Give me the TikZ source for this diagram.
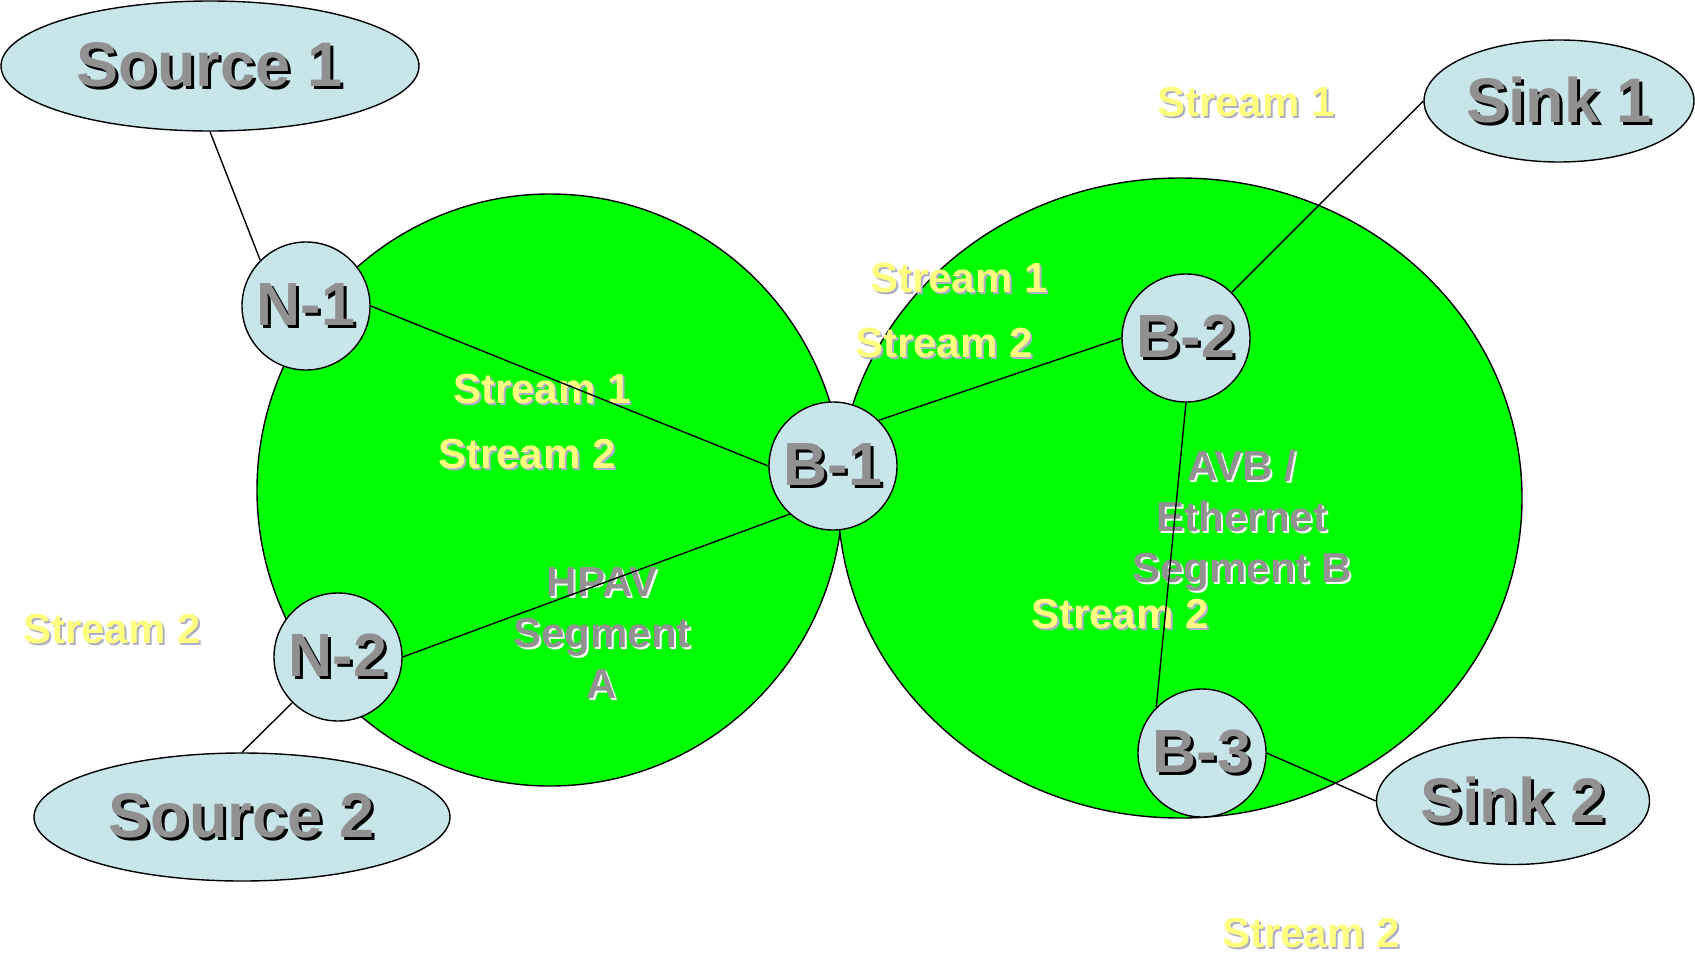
\documentclass[tikz,border=0pt]{standalone}
\usepackage{fontspec}
\setmainfont{Liberation Sans}
\usetikzlibrary{shapes.geometric}
\definecolor{nodefill}{RGB}{200,230,234}
\definecolor{segfill}{RGB}{0,255,0}
\definecolor{labgray}{RGB}{145,145,145}
\definecolor{streamyel}{RGB}{255,255,128}
\definecolor{streamshd}{RGB}{175,175,195}
% text with a drop shadow: #1 shadow colour, #2 offset, #3 text
\newcommand\shd[3]{\leavevmode\rlap{\hspace{#2}\raisebox{-#2}{\color{#1}#3}}#3}
\pgfdeclarelayer{bg}
\pgfdeclarelayer{lbl}
\pgfdeclarelayer{edges}
\pgfsetlayers{bg,lbl,edges,main}
\tikzset{
  segment/.style={ellipse, draw=black, line width=1.4pt, fill=segfill, inner sep=0pt},
  endpoint/.style={ellipse, draw=black, line width=1.4pt, fill=nodefill, inner sep=0pt,
    text=labgray, font=\bfseries\fontsize{63}{69}\selectfont},
  bridge/.style={circle, draw=black, line width=1.4pt, fill=nodefill, inner sep=0pt,
    minimum size=128pt, text=labgray, font=\bfseries\fontsize{61}{67}\selectfont},
  stream/.style={text=streamyel, font=\bfseries\fontsize{42}{48}\selectfont, inner sep=0pt},
  seglabel/.style={text=labgray, align=center, inner sep=0pt,
    font=\bfseries\fontsize{42}{51}\selectfont},
  link/.style={draw=black, line width=1.4pt}
}
\begin{document}
\begin{tikzpicture}[x=1pt,y=-1pt]
\useasboundingbox (0,0) rectangle (1695,956);
% network segments
\begin{pgfonlayer}{bg}
\node[segment, minimum width=586pt, minimum height=592pt] (segA) at (550,490) {};
\node[segment, minimum width=684pt, minimum height=640pt] (segB) at (1180,498) {};
\end{pgfonlayer}
% stream and segment captions
\begin{pgfonlayer}{lbl}
\node[stream] (s1a) at (1246,103) {\shd{streamshd}{2pt}{Stream 1}};
\node[stream] (s1b) at (959,279) {\shd{streamshd}{2pt}{Stream 1}};
\node[stream] (s2b) at (944,344) {\shd{streamshd}{2pt}{Stream 2}};
\node[stream] (s1c) at (542,390) {\shd{streamshd}{2pt}{Stream 1}};
\node[stream] (s2c) at (527,455) {\shd{streamshd}{2pt}{Stream 2}};
\node[stream] (s2d) at (112,630) {\shd{streamshd}{2pt}{Stream 2}};
\node[stream] (s2e) at (1120,615) {\shd{streamshd}{2pt}{Stream 2}};
\node[stream] (s2f) at (1311,934) {\shd{streamshd}{2pt}{Stream 2}};
\node[seglabel] (capA) at (602,634) {\shd{white}{2pt}{HPAV}\\\shd{white}{2pt}{Segment}\\\shd{white}{2pt}{A}};
\node[seglabel] (capB) at (1242,522) {\shd{white}{2pt}{AVB /}\\\shd{white}{2pt}{Ethernet}\\\shd{white}{2pt}{Segment B}};
\end{pgfonlayer}
% talkers, listeners and bridges
\node[endpoint, minimum width=418pt, minimum height=130pt] (src1) at (210,66) {\shd{black}{3pt}{Source 1}};
\node[endpoint, minimum width=416pt, minimum height=128pt] (src2) at (242,817) {\shd{black}{3pt}{Source 2}};
\node[endpoint, minimum width=270pt, minimum height=122pt] (snk1) at (1559,101) {\shd{black}{3pt}{Sink 1}};
\node[endpoint, minimum width=273pt, minimum height=127pt] (snk2) at (1513,801) {\shd{black}{3pt}{Sink 2}};
\node[bridge] (n1) at (306,306) {\shd{black}{3pt}{N-1}};
\node[bridge] (n2) at (338,657) {\shd{black}{3pt}{N-2}};
\node[bridge] (b1) at (833,466) {\shd{black}{3pt}{B-1}};
\node[bridge] (b2) at (1186,338) {\shd{black}{3pt}{B-2}};
\node[bridge] (b3) at (1202,753) {\shd{black}{3pt}{B-3}};
% links
\begin{pgfonlayer}{edges}
\draw[link] (src1.south) -- (n1.135);
\draw[link] (src2.north) -- (n2.225);
\draw[link] (n1.east) -- (b1.west);
\draw[link] (n2.east) -- (b1.228);
\draw[link] (b1.45) -- (b2.west);
\draw[link] (b2.south) -- (b3.135);
\draw[link] (b2.45) -- (snk1.west);
\draw[link] (b3.east) -- (snk2.west);
\end{pgfonlayer}
\end{tikzpicture}
\end{document}
